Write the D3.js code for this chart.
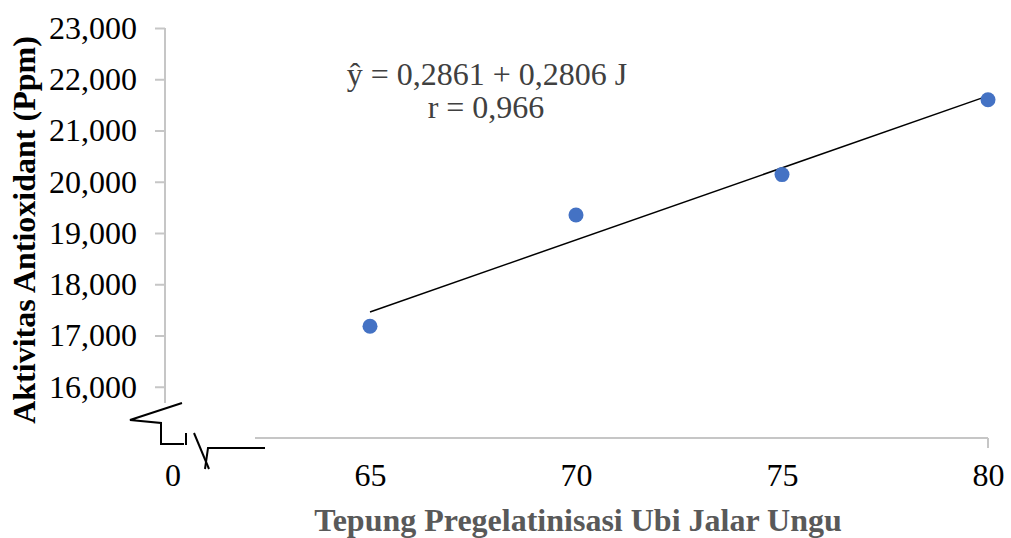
<!DOCTYPE html>
<html><head><meta charset="utf-8">
<script src="https://cdn.jsdelivr.net/npm/d3@7"></script>
<style>body{margin:0;background:#fff}svg{display:block}</style>
</head><body>
<script>
const categories = [65, 70, 75, 80];
const values = [17180, 19350, 20140, 21600];
const yTicks = [16000, 17000, 18000, 19000, 20000, 21000, 22000, 23000];
const xTicks = [65, 70, 75, 80];
const breakLabel = "0";
const equation = "ŷ = 0,2861 + 0,2806 J";
const rText = "r = 0,966";
const xTitle = "Tepung Pregelatinisasi Ubi Jalar Ungu";
const yTitle = "Aktivitas Antioxidant (Ppm)";

const W = 1011, H = 538;
const svg = d3.select("body").append("svg").attr("width", W).attr("height", H);
const x = d3.scaleLinear().domain([65, 80]).range([370, 988]);
const y = d3.scaleLinear().domain([15000, 23000]).range([438, 28]);
const font = "'Liberation Serif','Times New Roman',serif";
const axisColor = "#c6c6c6";
const fs = 32;

// Y axis
const yAxis = svg.append("g").attr("transform", "translate(165,0)")
  .call(d3.axisLeft(y).tickValues(yTicks).tickSize(10).tickPadding(18)
    .tickFormat(d3.format(",.0f")));
yAxis.select(".domain").remove();
yAxis.append("line").attr("x1", 0).attr("x2", 0).attr("y1", y(23000)).attr("y2", 403)
  .attr("stroke", axisColor).attr("stroke-width", 2);
yAxis.selectAll(".tick line").attr("stroke", axisColor).attr("stroke-width", 2);
yAxis.selectAll(".tick text").attr("font-family", font).attr("font-size", fs).attr("fill", "#000");

// X axis
const xAxis = svg.append("g").attr("transform", "translate(0,438)")
  .call(d3.axisBottom(x).tickValues(xTicks).tickSize(0).tickPadding(25).tickFormat(d => d));
xAxis.select(".domain").remove();
xAxis.append("line").attr("x1", 255).attr("x2", x(80)).attr("y1", 0).attr("y2", 0)
  .attr("stroke", axisColor).attr("stroke-width", 2);
xAxis.append("line").attr("x1", x(80)).attr("x2", x(80)).attr("y1", 0).attr("y2", 10)
  .attr("stroke", axisColor).attr("stroke-width", 2);
xAxis.selectAll(".tick text").attr("font-family", font).attr("font-size", fs).attr("fill", "#000");
svg.append("text").attr("x", 173).attr("y", 486).attr("text-anchor", "middle")
  .attr("font-family", font).attr("font-size", fs).attr("fill", "#000").text(breakLabel);

// Break symbol
const brk = svg.append("g").attr("fill", "none").attr("stroke", "#000").attr("stroke-width", 2);
brk.append("polyline").attr("points", "182,403 130,420 161,423 161,444 184,444");
brk.append("line").attr("x1", 186).attr("x2", 186).attr("y1", 433).attr("y2", 445);
brk.append("line").attr("x1", 194).attr("x2", 209).attr("y1", 433).attr("y2", 469);
brk.append("polyline").attr("points", "205,469 208,448 265,448");

// Trend line (least squares)
const mx = d3.mean(categories), my = d3.mean(values);
const slope = d3.sum(categories, (c, i) => (c - mx) * (values[i] - my)) / d3.sum(categories, c => (c - mx) ** 2);
const icpt = my - slope * mx;
svg.append("line").attr("x1", x(65)).attr("y1", y(icpt + slope * 65))
  .attr("x2", x(80)).attr("y2", y(icpt + slope * 80))
  .attr("stroke", "#000").attr("stroke-width", 1.5);

// Points
svg.selectAll("circle.pt").data(categories).enter().append("circle")
  .attr("class", "pt").attr("cx", d => x(d)).attr("cy", (d, i) => y(values[i]))
  .attr("r", 7.5).attr("fill", "#4472C4");

// Equation
svg.append("text").attr("x", 487).attr("y", 85).attr("text-anchor", "middle")
  .attr("font-family", font).attr("font-size", fs).attr("fill", "#404040").text(equation);
svg.append("text").attr("x", 486).attr("y", 118).attr("text-anchor", "middle")
  .attr("font-family", font).attr("font-size", fs).attr("fill", "#404040").text(rText);

// Titles
svg.append("text").attr("x", 578).attr("y", 531).attr("text-anchor", "middle")
  .attr("font-family", font).attr("font-size", fs).attr("font-weight", "bold")
  .attr("fill", "#595959").text(xTitle);
svg.append("text").attr("transform", "translate(35,230) rotate(-90)").attr("text-anchor", "middle")
  .attr("font-family", font).attr("font-size", fs).attr("font-weight", "bold")
  .attr("fill", "#000").text(yTitle);
</script>
</body></html>
